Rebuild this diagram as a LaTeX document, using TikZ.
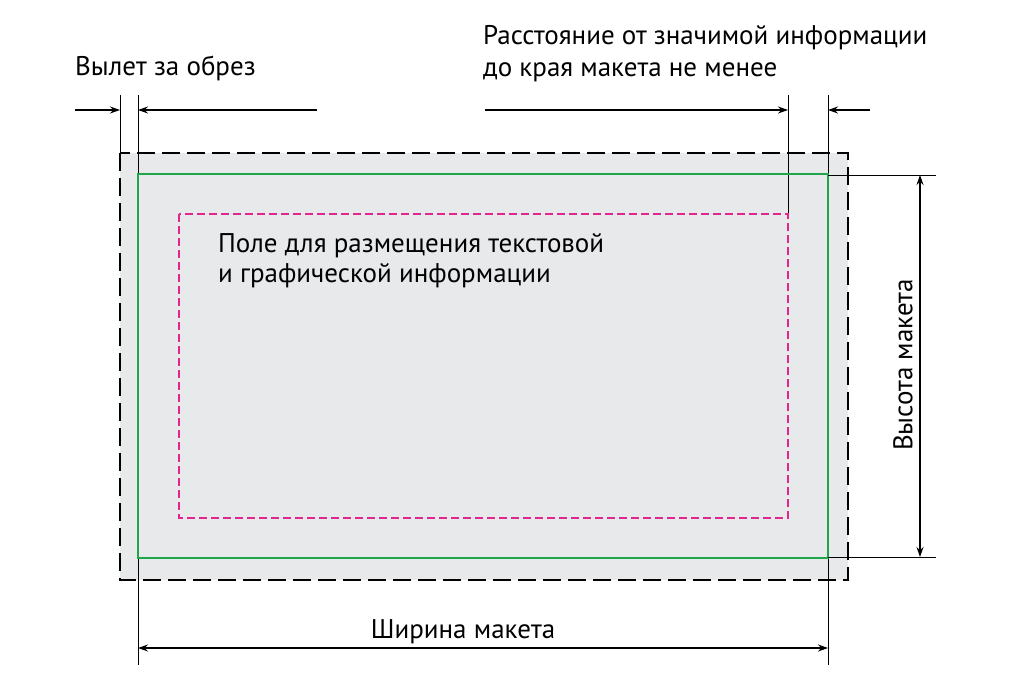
\documentclass[tikz,border=0pt]{standalone}
\usepackage{fontspec}
\setmainfont{PT Sans}
\usetikzlibrary{arrows.meta}
\begin{document}
\begin{tikzpicture}[x=1pt,y=-1pt,
  dim/.style={line width=1.1pt,-{Stealth[length=10pt,width=7pt]}},
  dimb/.style={line width=1.1pt,{Stealth[length=10pt,width=7pt]}-{Stealth[length=10pt,width=7pt]}},
  ext/.style={line width=1pt},
  lbl/.style={font=\fontsize{27}{32}\selectfont,inner sep=0pt,anchor=west}]
\useasboundingbox (0,0) rectangle (1024,682);
\definecolor{bg}{HTML}{E8E9EB}
\definecolor{grn}{HTML}{1FA64A}
\definecolor{mag}{HTML}{E2258F}
\fill[bg] (120,153) rectangle (848,580);
% extension lines
\coordinate (a1) at (120,95); \coordinate (a2) at (120,153);
\coordinate (b1) at (138,95); \coordinate (b2) at (138,665);
\coordinate (c1) at (788,95); \coordinate (c2) at (788,214);
\coordinate (d1) at (828,95); \coordinate (d2) at (828,665);
\draw[ext] (a1)--(a2); \draw[ext] (b1)--(b2);
\draw[ext] (c1)--(c2); \draw[ext] (d1)--(d2);
\draw[line width=1.8pt,dash pattern=on 18pt off 7pt] (120,153) rectangle (848,580);
\draw[grn,line width=1.3pt] (138,174) rectangle (828,558);
\draw[mag,line width=1.3pt,dash pattern=on 8pt off 4pt] (179,214) rectangle (788,518);
\node[lbl] (t1) at (218,246) {Поле для размещения текстовой};
\node[lbl] (t2) at (218,276) {и графической информации};
\node[lbl] (t3) at (75,68) {Вылет за обрез};
\node[lbl] (t4) at (483,38) {Расстояние от значимой информации};
\node[lbl] (t5) at (483,72) {до края макета не менее};
\coordinate (h1) at (828,175); \coordinate (h1e) at (936,175);
\coordinate (h2) at (828,557); \coordinate (h2e) at (936,557);
\draw[ext] (h1)--(h1e); \draw[ext] (h2)--(h2e);
% bleed arrows
\coordinate (p1) at (75,110); \coordinate (p2) at (120,110);
\coordinate (p3) at (317,110); \coordinate (p4) at (138,110);
\draw[dim] (p1)--(p2); \draw[dim] (p3)--(p4);
\coordinate (q1) at (485,110); \coordinate (q2) at (788,110);
\coordinate (q3) at (870,110); \coordinate (q4) at (828,110);
\draw[dim] (q1)--(q2); \draw[dim] (q3)--(q4);
% height
\coordinate (v1) at (920,175); \coordinate (v2) at (920,557);
\draw[dimb] (v1)--(v2);
\node[font=\fontsize{27}{32}\selectfont,rotate=90,inner sep=0pt] (hl) at (903,365) {Высота макета};
% width
\coordinate (w1) at (138,648); \coordinate (w2) at (828,648);
\draw[dimb] (w1)--(w2);
\node[font=\fontsize{27}{32}\selectfont,inner sep=0pt] (wl) at (463,632) {Ширина макета};
\end{tikzpicture}
\end{document}
